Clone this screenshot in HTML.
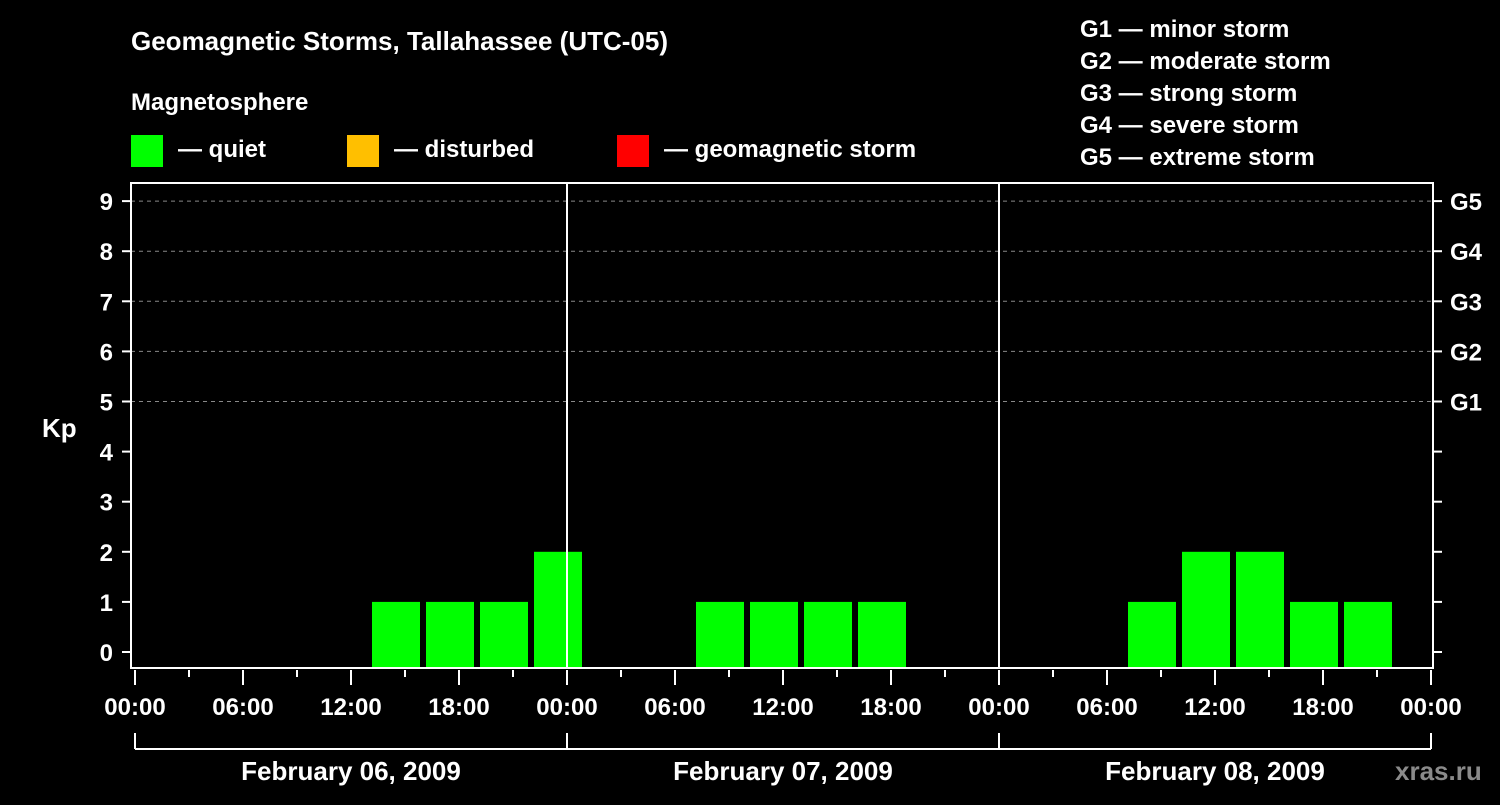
<!DOCTYPE html>
<html><head><meta charset="utf-8"><style>
body{margin:0;background:#000;}
svg text{font-family:"Liberation Sans",sans-serif;font-weight:bold;fill:#fff;}
</style></head><body>
<svg id="chart" width="1500" height="800" xmlns="http://www.w3.org/2000/svg">
<rect width="1500" height="800" fill="#000"/>
<text x="131" y="50" font-size="26">Geomagnetic Storms, Tallahassee (UTC-05)</text>
<text x="131" y="110" font-size="24">Magnetosphere</text>
<g><rect x="131" y="135" width="32" height="32" fill="#00ff00"/><text x="178" y="157" font-size="24">— quiet</text></g>
<g><rect x="347" y="135" width="32" height="32" fill="#ffbf00"/><text x="394" y="157" font-size="24">— disturbed</text></g>
<g><rect x="617" y="135" width="32" height="32" fill="#ff0000"/><text x="664" y="157" font-size="24">— geomagnetic storm</text></g>
<g font-size="24">
<text x="1080" y="37">G1 — minor storm</text>
<text x="1080" y="69">G2 — moderate storm</text>
<text x="1080" y="101">G3 — strong storm</text>
<text x="1080" y="133">G4 — severe storm</text>
<text x="1080" y="165">G5 — extreme storm</text>
</g>
<text x="42" y="437" font-size="26">Kp</text>
<text x="1395" y="780" font-size="26" fill="#888" style="fill:#8a8a8a">xras.ru</text>
<g id="grid"></g><g id="bars"></g><g id="axes"></g>
</svg>
<script>
const kpValues=[0,0,0,0,1,1,1,2,0,0,1,1,1,1,0,0,0,0,1,2,2,1,1,0];
const slotStartHour=1; // first slot starts 01:00 local (06 UTC)
const dayLabels=["February 06, 2009","February 07, 2009","February 08, 2009"];
const yTicks=[0,1,2,3,4,5,6,7,8,9];
const gLabels=["G1","G2","G3","G4","G5"];
const xTickLabels=["00:00","06:00","12:00","18:00"];
const NS="http://www.w3.org/2000/svg";
const L=131,R=1433,T=183,B=668,X0=135,PXH=18;
const xs=h=>X0+h*PXH, ys=k=>652-k*50.1;
function mk(tag,attrs,parent,txt){const e=document.createElementNS(NS,tag);for(const k in attrs)e.setAttribute(k,attrs[k]);if(txt!==undefined)e.textContent=txt;parent.appendChild(e);return e;}
const grid=document.getElementById('grid'),bars=document.getElementById('bars'),axes=document.getElementById('axes');
for(let k=5;k<=9;k++){const l=mk('line',{x1:L,x2:R,y1:ys(k),y2:ys(k),stroke:'#888','stroke-dasharray':'4,4','stroke-width':1},grid);

}
kpValues.forEach((v,i)=>{if(v<=0)return;const h=slotStartHour+i*3;
const r=mk('rect',{x:xs(h)+3,width:3*PXH-6,y:ys(v),height:B-ys(v),fill:v>=5?'#ff0000':(v>=4?'#ffbf00':'#00ff00')},bars);

});
const frame=mk('rect',{x:L,y:T,width:R-L,height:B-T,fill:'none',stroke:'#fff','stroke-width':2},axes);


for(let d=1;d<dayLabels.length;d++){const l=mk('line',{x1:xs(24*d),x2:xs(24*d),y1:T,y2:B,stroke:'#fff','stroke-width':2},axes);

}
yTicks.forEach(k=>{mk('line',{x1:122,x2:L,y1:ys(k),y2:ys(k),stroke:'#fff','stroke-width':2},axes);
const t=mk('text',{x:113,y:ys(k)+9,'font-size':24,'text-anchor':'end'},axes,k);


mk('line',{x1:R,x2:R+9,y1:ys(k),y2:ys(k),stroke:'#fff','stroke-width':2},axes);});
gLabels.forEach((g,i)=>{const t=mk('text',{x:1450,y:ys(5+i)+9,'font-size':24},axes,g);

});
for(let h=0;h<=24*dayLabels.length;h+=3){const major=h%6===0;
mk('line',{x1:xs(h),x2:xs(h),y1:B+2,y2:major?685:677,stroke:'#fff','stroke-width':2},axes);
if(major){const t=mk('text',{x:xs(h),y:715,'font-size':24,'text-anchor':'middle'},axes,xTickLabels[(h/6)%4]);

}}
mk('line',{x1:xs(0),x2:xs(24*dayLabels.length),y1:749,y2:749,stroke:'#fff','stroke-width':2},axes);
for(let d=0;d<=dayLabels.length;d++)mk('line',{x1:xs(24*d),x2:xs(24*d),y1:733,y2:749,stroke:'#fff','stroke-width':2},axes);
dayLabels.forEach((s,d)=>{const t=mk('text',{x:xs(24*d+12),y:780,'font-size':26,'text-anchor':'middle'},axes,s);

});
</script>
</body></html>
